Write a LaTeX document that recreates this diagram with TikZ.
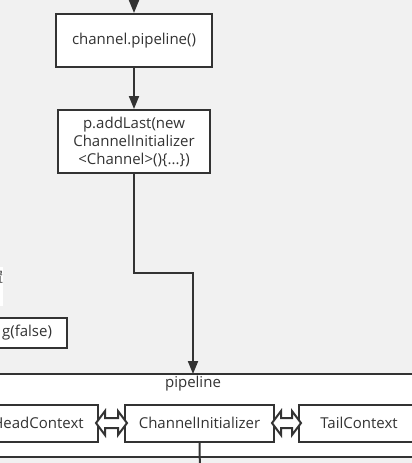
\documentclass[tikz,border=0pt]{standalone}
\usepackage{fontspec}
\setmainfont{Open Sans}
\newfontfamily\cjkfont{Noto Sans CJK SC}
\usetikzlibrary{arrows.meta,positioning,calc}

\definecolor{canvasgray}{HTML}{F1F1F1}
\definecolor{inkgray}{HTML}{333333}

\newcommand{\hollowlink}[2]{%
  \draw[hollow] let \p1=($(#1.east)+(-3,0)$), \p2=($(#2.west)+(3,0)$) in
    (\p1) -- (\x1+9,\y1+12) -- (\x1+9,\y1+5) -- (\x2-9,\y1+5) -- (\x2-9,\y1+12)
    -- (\p2) -- (\x2-9,\y1-12) -- (\x2-9,\y1-5) -- (\x1+9,\y1-5) -- (\x1+9,\y1-12) -- cycle;
}

\begin{document}
\begin{tikzpicture}[x=1pt,y=-1pt,
  font=\fontsize{15}{18}\selectfont,
  text=inkgray,
  box/.style={draw=inkgray, line width=2pt, fill=white, align=center, inner sep=0pt},
  flow/.style={draw=inkgray, line width=2pt, -{Triangle[width=10pt,length=13pt]}},
  wire/.style={draw=inkgray, line width=2pt},
  hollow/.style={draw=inkgray, line width=2pt, fill=white, line join=miter}]

\useasboundingbox (0,0) rectangle (412,463);
\clip (0,0) rectangle (412,463);
\fill[canvasgray] (0,0) rectangle (412,463);

% steps
\coordinate (entry) at (134,-10);
\node[box, minimum width=156pt, minimum height=53pt] (pipecall) at (134,40.5) {channel.pipeline()};
\node[box, minimum width=152pt, minimum height=63pt] (addlast) at (134,141.5)
  {p.addLast(new\\ChannelInitializer\\<Channel>()\{...\})};

% left side, cut off
\node[fill=white, minimum width=40pt, minimum height=39pt, inner sep=0pt] (notebox) at (-17,286.5) {};
\node[anchor=east, inner sep=0pt, font=\cjkfont\fontsize{14}{16}\selectfont] (notetext) at (3.5,277) {置};
\node[box, minimum width=87pt, minimum height=30pt, text width=57pt, align=right] (optbox) at (23.5,333) {g(false)};

% pipeline
\node[box, minimum width=452pt, minimum height=83pt] (pipe) at (206,415.5) {};
\coordinate (pipetop) at (193,374);
\node[inner sep=0pt] (pipelabel) at (193,384) {pipeline};
\node[box, minimum width=120pt, minimum height=37pt] (head) at (38,423) {HeadContext};
\node[box, minimum width=149pt, minimum height=37pt] (init) at (199.5,423) {ChannelInitializer};
\node[box, minimum width=120pt, minimum height=37pt] (tail) at (359,423) {TailContext};
\coordinate (below) at (200,475);

\hollowlink{head}{init}
\hollowlink{init}{tail}

% connectors
\draw[flow] (entry) -- (pipecall);
\draw[flow] (pipecall) -- (addlast);
\coordinate (turn) at (134,273);
\draw[flow] (addlast.south) -- (turn) -| (pipetop);
\draw[wire] (init.south) -- (below);

\end{tikzpicture}
\end{document}
